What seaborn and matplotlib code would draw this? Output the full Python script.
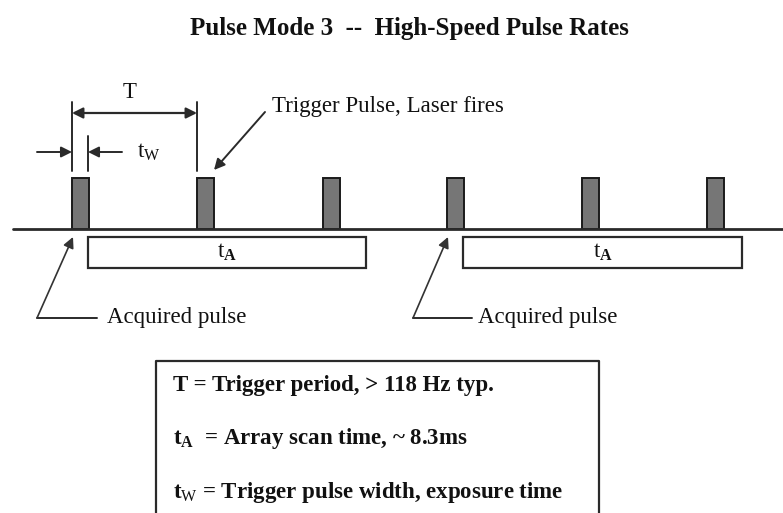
import matplotlib
matplotlib.use("Agg")
import matplotlib.pyplot as plt
import seaborn as sns

# timing diagram, x/y in pixel units of the original drawing
pulse_left = [72, 197, 323, 447, 582, 707]
pulse_width = 17
pulse_top = 178
baseline_y = 229

scan_start = [88, 463]
scan_end = [366, 742]
scan_top = 237
scan_bottom = 268

acq_tip_x = [73, 448]
acq_corner_x = [37, 413]
acq_end_x = [97, 472]
acq_text_x = [107, 478]

legend_lines = [
    r"T = Trigger period, > 118 Hz typ.",
    r"t$_\mathbf{A}$  = Array scan time, ~ 8.3ms",
    r"t$_\mathrm{W}$ = Trigger pulse width, exposure time",
]
legend_baselines = [391, 444, 498]

sns.set_theme(style="white")
plt.rcParams["font.family"] = ["Liberation Serif", "DejaVu Serif"]
plt.rcParams["mathtext.fontset"] = "custom"
plt.rcParams["mathtext.rm"] = "Liberation Serif"
plt.rcParams["mathtext.bf"] = "Liberation Serif:bold"
plt.rcParams["mathtext.it"] = "Liberation Serif:italic"

fig = plt.figure(figsize=(7.83, 5.13), dpi=100)
ax = fig.add_axes([0, 0, 1, 1])
ax.set_xlim(0, 783)
ax.set_ylim(513, 0)
ax.axis("off")

dark = "#2a2a2a"
arrow = dict(arrowstyle="-|>", mutation_scale=16, color=dark, lw=1.4,
             shrinkA=0, shrinkB=0)

ax.text(190, 35, "Pulse Mode 3  --  High-Speed Pulse Rates", ha="left",
        va="baseline", fontsize=18, fontweight="bold", color="#111")

# baseline
ax.plot([13, 783], [baseline_y, baseline_y], color=dark, lw=2)

# trigger pulses
ax.bar(pulse_left, [baseline_y - pulse_top] * len(pulse_left), width=pulse_width,
       bottom=pulse_top, align="edge", color="#767676", edgecolor="#1a1a1a", lw=1.4)

# array scan boxes
widths = [e - s for s, e in zip(scan_start, scan_end)]
ax.barh([scan_top] * len(scan_start), widths, height=scan_bottom - scan_top,
        left=scan_start, align="edge", color="white", edgecolor=dark, lw=1.6)
for s, e in zip(scan_start, scan_end):
    ax.text((s + e) / 2, 258, r"t$_\mathbf{A}$", ha="center", va="baseline",
            fontsize=16.5, color="#111")

# T dimension
t0, t1 = pulse_left[0], pulse_left[1]
for x in (t0, t1):
    ax.plot([x, x], [102, 171], color=dark, lw=1.4)
ax.annotate("", xy=(t1, 113), xytext=(t0, 113),
            arrowprops=dict(arrowstyle="<|-|>", mutation_scale=16, color=dark,
                            lw=1.6, shrinkA=0, shrinkB=0))
ax.text(130, 98, "T", ha="center", va="baseline", fontsize=16.5, color="#111")

# tw dimension
w1 = pulse_left[0] + pulse_width - 1
ax.plot([w1, w1], [136, 171], color=dark, lw=1.4)
ax.annotate("", xy=(t0, 152), xytext=(37, 152), arrowprops=arrow)
ax.annotate("", xy=(w1, 152), xytext=(122, 152), arrowprops=arrow)
ax.text(137, 158, r"t$_\mathrm{W}$", ha="left", va="baseline", fontsize=16.5,
        color="#111")

# trigger pulse callout
ax.annotate("", xy=(214, 170), xytext=(265, 112), arrowprops=arrow)
ax.text(272, 112, "Trigger Pulse, Laser fires", ha="left", va="baseline",
        fontsize=16.5, color="#111")

# acquired pulse callouts
for tip, corner, end, tx in zip(acq_tip_x, acq_corner_x, acq_end_x, acq_text_x):
    ax.plot([end, corner], [318, 318], color=dark, lw=1.4)
    ax.annotate("", xy=(tip, 237), xytext=(corner, 318),
                arrowprops=dict(arrowstyle="-|>", mutation_scale=16, color="#333",
                                lw=1.2, shrinkA=0, shrinkB=0))
    ax.text(tx, 323, "Acquired pulse", ha="left", va="baseline", fontsize=16.5,
            color="#111")

# legend box, runs off the bottom edge
ax.plot([156, 156, 599, 599], [520, 361, 361, 520], color=dark, lw=1.6)
for line, yb in zip(legend_lines, legend_baselines):
    ax.text(173, yb, line, ha="left", va="baseline", fontsize=16.5,
            fontweight="bold", color="#111")

fig.savefig("out.png", dpi=100)
